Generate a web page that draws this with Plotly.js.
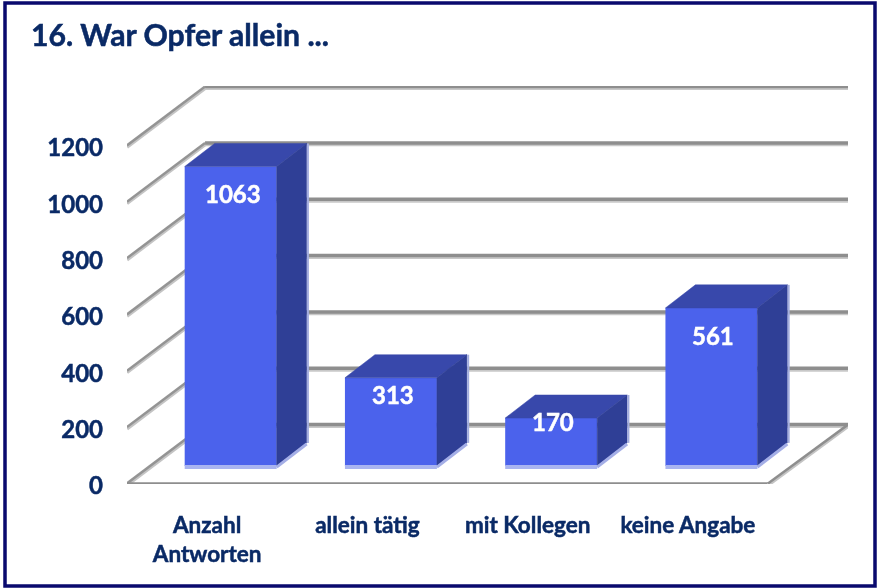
<!DOCTYPE html>
<html>
<head>
<meta charset="utf-8">
<script src="https://cdn.plot.ly/plotly-3.0.1.min.js"></script>
<style>
html,body{margin:0;padding:0;background:#fff}
#c{width:877px;height:588px;filter:blur(0.45px)}
#c .xtick text,#c .ytick text,#c .gtitle{stroke:#0a2a66;stroke-width:0.5px}
#c .annotation-text{stroke:#fff;stroke-width:0.5px}
</style>
</head>
<body>
<div id="c"></div>
<script>
const titleText = "16. War Opfer allein ...";
const categories = ["Anzahl<br>Antworten", "allein tätig", "mit Kollegen", "keine Angabe"];
const values = [1063, 313, 170, 561];
const yTicks = [0, 200, 400, 600, 800, 1000, 1200];

// pseudo-3D projection, in axis units
const wallDx = 0.487, wallDxRight = 0.5, wallDy = 209;   // depth of the floor
const barShift = 0.147, barBase = 64; // bars stand part way into the floor
const barWidth = 0.574;
const faceDx = 0.187, faceDy = 82;    // depth of one bar
const labelDrop = [27, 17, 3, 28];    // px below bar top

const navy = "#0a2a66";
const F = "Lato, 'Open Sans', sans-serif";
const xMin = -0.5, xMax = 3.5;
const traces = [];
const line = (xs, ys, color, width, z) => traces.push({
  type: "scatter", mode: "lines", x: xs, y: ys, cliponaxis: false,
  line: {color, width, simplify: false}, hoverinfo: "skip", showlegend: false, zorder: z
});
const face = (xs, ys, color, z) => traces.push({
  type: "scatter", mode: "lines", x: xs, y: ys, fill: "toself", fillcolor: color,
  line: {color, width: 0.5}, cliponaxis: false, hoverinfo: "skip", showlegend: false, zorder: z
});

// gridlines: back wall and left wall
yTicks.forEach(v => {
  line([xMin + wallDx, xMax + wallDxRight], [v + wallDy - 4, v + wallDy - 4], "#c8c8c8", 3.5, 0);
  line([xMin + wallDx, xMax + wallDxRight], [v + wallDy + 2, v + wallDy + 2], "#8e8e8e", 3.5, 0);
  line([xMin, xMin + wallDx], [v - 4, v + wallDy - 4], "#c4c4c4", 3.5, 0);
  line([xMin, xMin + wallDx], [v + 2, v + wallDy + 2], "#949494", 2.5, 0);
});
// floor edges
line([xMin, xMax], [-4, -4], "#c8c8c8", 3.5, 0);
line([xMin, xMax], [2, 2], "#8e8e8e", 2.5, 0);
line([xMax, xMax + wallDxRight], [-4, wallDy - 4], "#c4c4c4", 3.5, 0);
line([xMax, xMax + wallDxRight], [2, wallDy + 2], "#8e8e8e", 2.5, 0);

// front of the bars
traces.push({
  type: "bar", x: values.map((_, i) => i + barShift), y: values, base: barBase, width: barWidth,
  marker: {color: "#4b62ec", line: {width: 0}}, hoverinfo: "skip", showlegend: false, zorder: 1
});
// top and side faces plus light lower edges
values.forEach((v, i) => {
  const l = i + barShift - barWidth / 2, r = i + barShift + barWidth / 2;
  const b = barBase, t = barBase + v;
  face([l, r, r + faceDx, l + faceDx, l], [t, t, t + faceDy, t + faceDy, t], "#3848ab", 2);
  face([r, r + faceDx, r + faceDx, r, r], [b, b + faceDy, t + faceDy, t, b], "#2f3f96", 2);
  line([l, r], [b - 4, b - 4], "#a9b4f0", 4, 3);
  line([r, r + faceDx], [b - 4, b + faceDy - 4], "#a4aee6", 3, 3);
  line([r + faceDx + 0.008, r + faceDx + 0.008], [b + faceDy, t + faceDy], "#a4aee0", 2, 3);
});

const px = {l: 127, r: 848, t: 86, b: 484};
const pw = px.r - px.l, ph = px.b - px.t;
const layout = {
  width: 877, height: 588,
  margin: {l: px.l, r: 877 - px.r, t: px.t, b: 588 - px.b, pad: 0},
  paper_bgcolor: "#fff", plot_bgcolor: "rgba(0,0,0,0)",
  title: {text: "<b>" + titleText + "</b>", x: 31 / 877, xref: "container", xanchor: "left",
          y: 1 - 35 / 588, yref: "container", yanchor: "middle", font: {family: F, size: 30.2, color: navy}},
  xaxis: {
    range: [xMin, xMax + 0.4992], showgrid: false, zeroline: false, showline: false,
    tickmode: "array", tickvals: categories.map((_, i) => i),
    ticktext: categories.map(c => "<b>" + c + "</b>"),
    ticks: "", ticklabelstandoff: 25, tickfont: {family: F, size: 22.5, color: navy}
  },
  yaxis: {
    range: [0, 1413], showgrid: false, zeroline: false, showline: false,
    tickmode: "array", tickvals: yTicks, ticktext: yTicks.map(v => "<b>" + v + "</b>"),
    ticks: "", ticklabelstandoff: 23, ticklabelshift: 2, tickfont: {family: F, size: 24, color: navy}
  },
  barmode: "overlay",
  showlegend: false,
  annotations: values.map((v, i) => ({
    x: i + barShift, y: barBase + v, xref: "x", yref: "y", text: "<b>" + v + "</b>", showarrow: false,
    yshift: -labelDrop[i], xshift: 2, xanchor: "center", yanchor: "middle",
    font: {family: F, size: 24, color: "#fff"}
  })),
  shapes: [{
    type: "rect", xref: "paper", yref: "paper", layer: "above",
    x0: (5 - px.l) / pw, x1: (875 - px.l) / pw, y0: (px.b - 586) / ph, y1: (px.b - 3) / ph,
    line: {color: "#0a0a6e", width: 3.5}, fillcolor: "rgba(0,0,0,0)"
  }]
};
Plotly.newPlot("c", traces, layout, {displayModeBar: false, staticPlot: true});
</script>
</body>
</html>
